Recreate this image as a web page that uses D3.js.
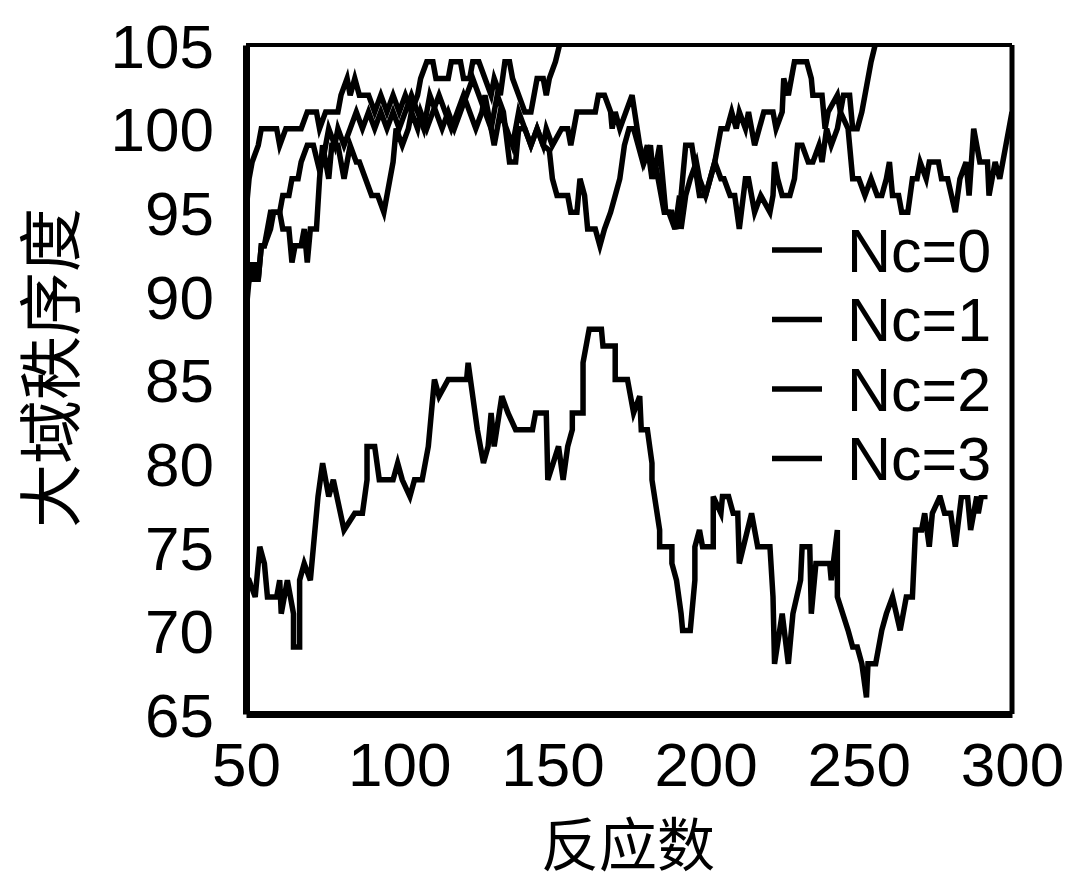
<!DOCTYPE html>
<html>
<head>
<meta charset="utf-8">
<script src="https://cdn.jsdelivr.net/npm/d3@7"></script>
<style>
  body { margin: 0; background: #fff; }
  svg { display: block; }
</style>
</head>
<body>
<div id="chart"></div>
<script>
// series: [reactions, order]
const nc0 = [[50,95],[51,97],[52,98],[54,99],[55,100],[58,100],[60,100],[61,99],[63,100],[68,100],[70,101],[73,101],[74,100],[76,101],[80,101],[81,102],[83,103],[84,102],[85.5,103],[87,102],[90,102],[92,101],[94,102],[96,101],[98,102],[100,101],[102,102],[104,101],[106,102],[107,103],[109,104],[111,104],[112,103],[116,103],[117,104],[120,104],[121,103],[123,103],[124,104],[126,104],[128,103],[130,102],[131,103],[133,102],[134.5,104],[136,104],[137,103],[139,102],[141,101],[143,101],[145,103],[147,103],[148,102],[149,103],[151,104],[153,105.5],[156,107]];

const nc1 = [[50,89],[51,91],[52,91],[53,92],[54,91],[55,93],[56,93],[58,95],[61,95],[62,94],[64,94],[65,92],[66,93],[68,93],[69,94],[70,92],[71,94],[73,94],[74,97],[75,99],[77,97],[78,99],[80,99],[82,97],[83,98],[84,99],[86,98],[87,98],[89,97],[91,96],[93,96],[95,95],[97,97],[98,98],[99,100],[101,99],[103,100],[104,101],[106,100],[107,101],[109,100],[111,101],[113,102],[115,101],[117,100],[119,101],[121,102],[123,101],[125,100],[127,101],[128,102],[130,100],[131,99],[133,101],[135,100],[137,99],[139,101],[141,100],[143,99],[145,100],[147,99],[148,100],[150,99],[153,100],[155,100],[156,99],[158,101],[164,101],[165,102],[167,102],[169,101],[169.5,100],[170.5,101],[172,100],[174,101],[176,102],[178.5,99],[180,98],[182,99],[183,97],[185,99],[187,95],[189,95],[190.5,94],[192,96],[193.5,99],[195.5,99],[198,96],[200,96],[203,98],[204,99],[205,100],[207,100],[208.5,101],[210,100],[211,101],[213,100],[214,101],[216,99],[219,101],[222,101],[223,100],[225,101],[225.5,103],[227,102],[228,103],[229,104],[233,104],[234.5,103],[235,102],[238,102],[239,100],[240,101],[243,102],[244,101],[245,102],[247,102],[248,100],[249.5,100],[251,101],[252,102],[253,103],[254,104],[256,105.5],[258,107]];

const nc2 = [[50,90],[51,91],[52,92],[53,91],[54,91],[55,93],[56,93],[58,94],[59,95],[61,95],[62,96],[64,96],[65,97],[67,97],[68,98],[70,99],[72,99],[74,97.5],[75,98],[77,100],[79,99],[80,100],[82,99],[84,100],[86,101],[88,100],[90,101],[92,100],[94,101],[96,100],[98,101],[100,100],[102,101],[104,102],[106,101],[108,100],[110,102],[112,101],[114,100],[116,101],[118,100],[120,101],[122,102],[124,103],[126,102],[128,101],[130,100],[132,102],[134,101],[136,98],[138,98],[139,100],[141,100],[143,99],[145,100],[147,99],[149,98.7],[150,97],[151.5,96],[153,96],[155,96],[156,95],[158,95],[159,97],[160.5,96],[161.5,94],[164,94],[165.5,93],[167,94],[169,95],[170.5,96],[172,97],[173.5,99],[175,100],[176.5,100],[178,99],[179.5,98],[181,99],[182.5,97],[183.5,98],[186.5,95],[188,95],[190,94],[191.5,96],[192,94],[193.5,96],[195,97],[197,98],[198,97],[200,96],[201.5,97],[203,98],[205,97],[206,97],[208,96],[209.5,96],[211,94],[213,97],[214,97],[216,95],[218,96],[221,95],[222,96],[222.5,98],[223.5,97],[225,96],[227.5,96],[229,97],[230,99],[231.5,99],[233.5,98],[235,98],[237,99],[238,98],[239.5,100],[241,99],[243,100],[244,101],[246.5,100],[248,97],[250,97],[252,96],[254,97],[256,96],[257.5,96],[259,97],[260,98],[261,96],[263,96],[264,95],[266,95],[267.5,97],[269,97],[270,98],[272,97],[273,98],[276,98],[277,97],[279,97],[281.5,95],[283,97],[285,98],[286,96],[287.5,100],[289.5,98],[292,98],[292.5,96],[294.5,98],[296,97],[297,98],[299,100],[300,101]];

const nc3 = [[50,73],[51,73],[53,72],[54.5,75],[56,74],[57,72],[60,72],[61,73],[61.5,71],[63.5,73],[65.5,71],[65.5,69],[67.5,69],[67.5,73],[69,74],[71,73],[72.5,76],[73.5,78],[75,80],[77,78],[78.5,79],[82,76],[85.5,77],[88,77],[89.5,79],[89.5,81],[92,81],[93.5,79],[98,79],[99.5,80],[101,79],[103.5,78],[105,79],[107.5,79],[109.5,81],[111.5,85],[113,84],[116,85],[122,85],[122.5,86],[124,84],[125.5,82],[127.5,80],[129,81],[130,83],[131,81],[133.5,84],[135.5,83],[138,82],[143.5,82],[144.5,83],[148,83],[148.5,79],[152,81],[153.5,79],[155,81],[156.5,82],[156.5,83],[160,83],[160,86],[162,88],[166,88],[166.5,87],[170.5,87],[170.5,85],[174.5,85],[176.5,83],[178.5,84],[179,82],[181,82],[182.5,80],[182.5,79],[185,76],[185,75],[189,75],[189,74],[190.5,73],[192,71],[192.5,70],[195,70],[196.5,73],[196.5,75],[198,76],[199,75],[202.5,75],[202.5,78],[205,77],[205.5,78],[207.5,78],[209,77],[210.5,77],[211,74],[215,77],[217,75],[221,75],[222,72],[222.5,68],[225,71],[227,68],[228.5,71],[231,73],[231.5,75],[234,75],[234.5,71],[236,74],[240.5,74],[241,73],[243,76],[243,72],[246.5,70],[248,69],[249.5,69],[251,68],[252.5,66],[253,68],[255.5,68],[257.5,70],[259,71],[261,72],[263.5,70],[265.5,72],[267.5,72],[268.5,76],[270.5,76],[271.5,77],[273,75],[274,77],[276.5,78],[278,77],[280,77],[281.5,75],[283.5,78],[285.5,78],[286.5,76],[287.5,77],[288.5,78],[289,77],[290,78],[292,78]];

const seriesNames = ["Nc=0", "Nc=1", "Nc=2", "Nc=3"];
const seriesData = [nc0, nc1, nc2, nc3];
const xTicks = [50, 100, 150, 200, 250, 300];
const yTicks = [65, 70, 75, 80, 85, 90, 95, 100, 105];

const W = 1074, H = 883;
const margin = { top: 45, right: 62, bottom: 169, left: 246 },
    width = W - margin.left - margin.right,
    height = H - margin.top - margin.bottom;

const latin = "'Liberation Sans', Arial, sans-serif";
const cjk = "'Noto Sans CJK SC', 'Noto Sans', sans-serif";

const svg = d3.select("#chart").append("svg")
    .attr("width", W)
    .attr("height", H);

const g = svg.append("g")
    .attr("transform", "translate(" + margin.left + "," + margin.top + ")");

const x = d3.scaleLinear().domain([50, 300]).range([0, width]);
const y = d3.scaleLinear().domain([65, 105]).range([height, 0]);

// clip lines to the plot frame
g.append("clipPath").attr("id", "plotClip")
    .append("rect")
    .attr("width", width)
    .attr("height", height);

const line = d3.line()
    .x(d => x(d[0]))
    .y(d => y(d[1]));

g.append("g")
    .attr("clip-path", "url(#plotClip)")
    .selectAll("path")
    .data(seriesData)
    .enter()
    .append("path")
    .attr("d", line)
    .attr("fill", "none")
    .attr("stroke", "#000")
    .attr("stroke-width", 5.5)
    .attr("stroke-linejoin", "miter");

// legend, white box over the lines
const legend = g.append("g");
legend.append("rect")
    .attr("x", 514)
    .attr("y", 178)
    .attr("width", 250)
    .attr("height", 272)
    .attr("fill", "#fff");

const legendItem = legend.selectAll(".item")
    .data(seriesNames)
    .enter()
    .append("g")
    .attr("class", "item")
    .attr("transform", (d, i) => "translate(0," + (205 + i * 69.5) + ")");

legendItem.append("line")
    .attr("x1", 526).attr("x2", 576)
    .attr("y1", 0).attr("y2", 0)
    .attr("stroke", "#000")
    .attr("stroke-width", 5.5);

legendItem.append("text")
    .attr("x", 601)
    .attr("y", 0)
    .attr("dy", "0.36em")
    .style("font-family", latin)
    .style("font-size", "61px")
    .text(d => d);

// frame: heavy left/bottom axes, lighter top/right
g.append("line").attr("x1", 0).attr("x2", width).attr("y1", 0).attr("y2", 0)
    .attr("stroke", "#000").attr("stroke-width", 4);
g.append("line").attr("x1", width).attr("x2", width).attr("y1", 0).attr("y2", height)
    .attr("stroke", "#000").attr("stroke-width", 5);

const xAxis = g.append("g")
    .attr("transform", "translate(0," + height + ")")
    .call(d3.axisBottom(x).tickValues(xTicks).tickSize(0).tickPadding(27));
const yAxis = g.append("g")
    .call(d3.axisLeft(y).tickValues(yTicks).tickSize(0).tickPadding(32));

[xAxis, yAxis].forEach(a => {
    a.select(".domain").attr("stroke", "#000").attr("stroke-width", 7);
    a.selectAll("text")
        .attr("fill", "#000")
        .style("font-family", latin)
        .style("font-size", "62px");
});
xAxis.selectAll("text").attr("dy", "0.72em");
yAxis.selectAll("text").attr("dy", "0.36em");

// axis titles
svg.append("text")
    .attr("x", 628)
    .attr("y", 866)
    .attr("text-anchor", "middle")
    .style("font-family", cjk)
    .style("font-size", "58px")
    .text("反应数");

svg.append("text")
    .attr("transform", "translate(74,368) rotate(-90)")
    .attr("text-anchor", "middle")
    .style("font-family", cjk)
    .style("font-size", "64px")
    .text("大域秩序度");
</script>
</body>
</html>
